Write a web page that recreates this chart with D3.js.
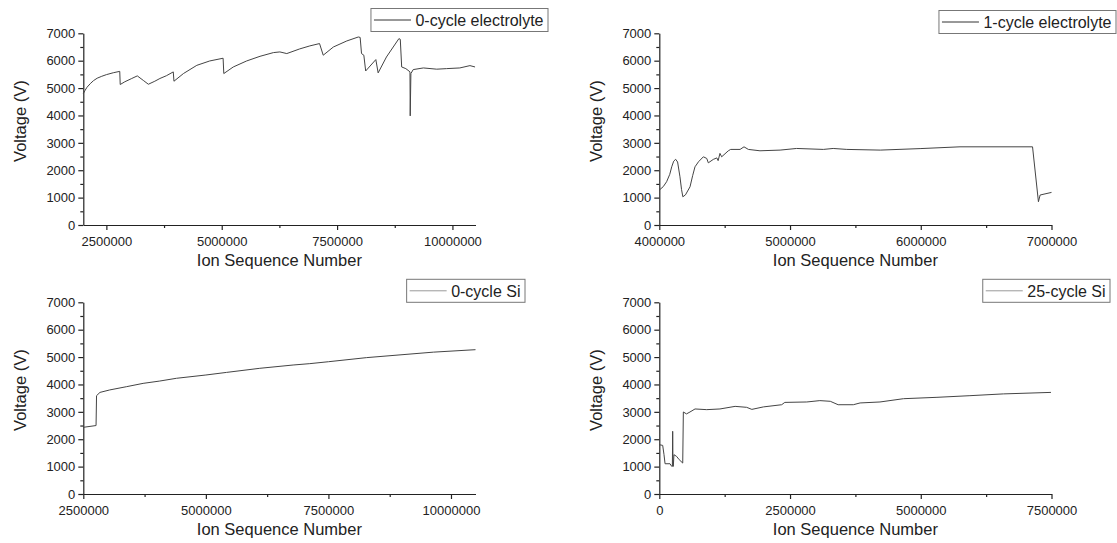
<!DOCTYPE html>
<html>
<head>
<meta charset="utf-8">
<script src="https://cdn.jsdelivr.net/npm/d3@7"></script>
<style>
  body { margin: 0; background: #fff; }
  svg text { font-family: "Liberation Sans", Arial, sans-serif; fill: #222; }
</style>
</head>
<body>
<div id="chart"></div>
<script>
// Series: [ion sequence number, voltage]
var elec0 = [[2000000,4800],[2040000,4920],[2080000,5030],[2150000,5160],[2220000,5270],[2300000,5360],[2400000,5430],
  [2500000,5490],[2650000,5560],[2790000,5610],
  [2800000,5130],[2900000,5230],[3050000,5350],[3170000,5445],[3300000,5280],[3410000,5140],[3550000,5250],
  [3660000,5350],[3800000,5450],[3950000,5590],[3965000,5250],[4170000,5530],[4460000,5830],[4740000,5990],
  [5030000,6090],[5045000,5530],[5250000,5770],[5540000,5990],[5830000,6160],[6120000,6295],[6260000,6320],
  [6410000,6260],[6690000,6430],[6910000,6540],[7120000,6625],[7200000,6200],[7420000,6500],[7710000,6720],
  [7960000,6865],[8000000,6850],[8030000,6260],[8080000,6200],[8120000,5625],[8340000,6040],[8390000,5555],
  [8570000,6135],[8840000,6805],[8870000,6780],[8900000,5770],[8990000,5710],[9060000,5620],[9080000,5590],
  [9085000,3985],[9100000,5530],[9150000,5675],[9370000,5735],[9660000,5690],[9870000,5710],[10160000,5735],
  [10380000,5820],[10490000,5770]];

var elec1 = [[4000000,1275],[4030000,1400],[4056000,1580],[4080000,1850],[4095000,2125],[4110000,2330],[4125000,2400],
  [4140000,2300],[4158000,1760],[4170000,1300],[4180000,1030],[4200000,1100],[4235000,1395],[4255000,1800],
  [4273000,2125],[4300000,2310],[4337000,2490],[4363000,2430],[4375000,2270],[4413000,2395],[4440000,2450],
  [4450000,2350],[4464000,2615],[4477000,2490],[4528000,2710],[4546000,2760],[4618000,2760],[4648000,2855],
  [4681000,2760],[4770000,2710],[4924000,2735],[5050000,2795],[5255000,2760],[5330000,2795],[5434000,2760],
  [5690000,2735],[5995000,2790],[6300000,2855],[6855000,2855],[6900000,850],[6913000,1095],[7000000,1190]];

var si0 = [[2500000,2435],[2740000,2495],[2760000,2500],[2770000,3590],[2840000,3710],[3040000,3800],[3385000,3920],
  [3720000,4040],[4060000,4125],[4400000,4225],[5000000,4345],[5420000,4440],[6100000,4590],[6780000,4710],
  [7120000,4760],[7500000,4830],[8280000,4980],[8960000,5080],[9640000,5180],[10500000,5270]];

var si25 = [[0,1800],[65000,1775],[90000,1435],[110000,1105],[205000,1105],[237000,1010],[250000,1010],
  [256000,2290],[262000,1010],[268000,1010],[280000,1435],[330000,1375],[380000,1255],[448000,1130],
  [460000,2995],[520000,2925],[587000,2995],[683000,3105],[907000,3080],[1160000,3105],[1450000,3200],
  [1670000,3165],[1770000,3090],[1990000,3180],[2340000,3260],[2400000,3345],[2820000,3360],[3070000,3410],
  [3270000,3385],[3420000,3260],[3710000,3260],[3840000,3325],[4220000,3360],[4670000,3480],[5310000,3530],
  [5940000,3590],[6580000,3655],[7490000,3710]];

// Tick values
var voltTicks = [0, 1000, 2000, 3000, 4000, 5000, 6000, 7000];
var voltMinor = [500, 1500, 2500, 3500, 4500, 5500, 6500];
var ionTicksA = [2500000, 5000000, 7500000, 10000000];
var ionMinorA = [3750000, 6250000, 8750000];
var ionTicksB = [4000000, 5000000, 6000000, 7000000];
var ionMinorB = [4500000, 5500000, 6500000];
var ionTicksC = [0, 2500000, 5000000, 7500000];
var ionMinorC = [1250000, 3750000, 6250000];

var panels = [
  { data: elec0, name: "0-cycle electrolyte", xDomain: [2000000, 10500000], xTicks: ionTicksA, xMinor: ionMinorA,
    left: 83.3, top: 33.3, legendRight: 548, legendTop: 8.5, legendColor: "#333" },
  { data: elec1, name: "1-cycle electrolyte", xDomain: [4000000, 7000000], xTicks: ionTicksB, xMinor: ionMinorB,
    left: 659.3, top: 33.3, legendRight: 1116, legendTop: 10.5, legendColor: "#333" },
  { data: si0, name: "0-cycle Si", xDomain: [2500000, 10500000], xTicks: ionTicksA, xMinor: ionMinorA,
    left: 83.3, top: 302.3, legendRight: 525, legendTop: 279.3, legendColor: "#999" },
  { data: si25, name: "25-cycle Si", xDomain: [0, 7500000], xTicks: ionTicksC, xMinor: ionMinorC,
    left: 659.3, top: 302.3, legendRight: 1110, legendTop: 279.3, legendColor: "#999" }
];

var plotW = 392.2, plotH = 191.7;

var svg = d3.select("#chart")
    .append("svg")
    .attr("width", 1117)
    .attr("height", 543);

panels.forEach(function (p) {
    var g = svg.append("g").attr("transform", "translate(" + p.left + "," + p.top + ")");

    var x = d3.scaleLinear().domain(p.xDomain).range([0, plotW]);
    var y = d3.scaleLinear().domain([0, 7000]).range([plotH, 0]);

    // x axis, major then minor ticks
    var xa = g.append("g")
        .attr("transform", "translate(0," + plotH + ")")
        .call(d3.axisBottom(x).tickValues(p.xTicks).tickFormat(d3.format("d")).tickSize(5).tickSizeOuter(0));
    xa.selectAll(".tick text").attr("y", 11.5).attr("font-size", "13px");

    var xm = g.append("g")
        .attr("transform", "translate(0," + plotH + ")")
        .call(d3.axisBottom(x).tickValues(p.xMinor).tickFormat("").tickSize(3));
    xm.select(".domain").remove();

    // y axis
    var ya = g.append("g")
        .call(d3.axisLeft(y).tickValues(voltTicks).tickFormat(d3.format("d")).tickSize(5).tickSizeOuter(0));
    ya.selectAll(".tick text").attr("font-size", "13px");

    var ym = g.append("g")
        .call(d3.axisLeft(y).tickValues(voltMinor).tickFormat("").tickSize(3));
    ym.select(".domain").remove();

    g.selectAll(".domain, .tick line").attr("stroke", "#222").attr("stroke-width", 1.2);
    g.selectAll(".tick text").attr("fill", "#222").style("font-family", "'Liberation Sans', Arial, sans-serif");

    // axis titles
    g.append("text")
        .attr("transform", "rotate(-90)")
        .attr("x", -plotH / 2 + 8)
        .attr("y", -57)
        .attr("text-anchor", "middle")
        .attr("font-size", "16.5px")
        .text("Voltage (V)");

    g.append("text")
        .attr("x", plotW / 2)
        .attr("y", plotH + 41)
        .attr("text-anchor", "middle")
        .attr("font-size", "16.5px")
        .text("Ion Sequence Number");

    // the trace
    var line = d3.line()
        .x(function (d) { return x(d[0]); })
        .y(function (d) { return y(d[1]); });

    g.append("path")
        .datum(p.data)
        .attr("fill", "none")
        .attr("stroke", "#444")
        .attr("stroke-width", 1)
        .attr("stroke-linejoin", "round")
        .attr("d", line);

    // legend box
    var lg = svg.append("g");
    var txt = lg.append("text")
        .attr("font-size", "16px")
        .text(p.name);
    var w = txt.node().getComputedTextLength();
    var bw = w + 49;
    var bx = p.legendRight - bw;
    txt.attr("x", bx + 44.5).attr("y", p.legendTop + 17.3);
    lg.append("rect")
        .attr("x", bx)
        .attr("y", p.legendTop)
        .attr("width", bw)
        .attr("height", 23)
        .attr("fill", "none")
        .attr("stroke", "#777")
        .attr("stroke-width", 1);
    lg.append("line")
        .attr("x1", bx + 3)
        .attr("x2", bx + 40)
        .attr("y1", p.legendTop + 11.5)
        .attr("y2", p.legendTop + 11.5)
        .attr("stroke", p.legendColor)
        .attr("stroke-width", 1);
});
</script>
</body>
</html>
